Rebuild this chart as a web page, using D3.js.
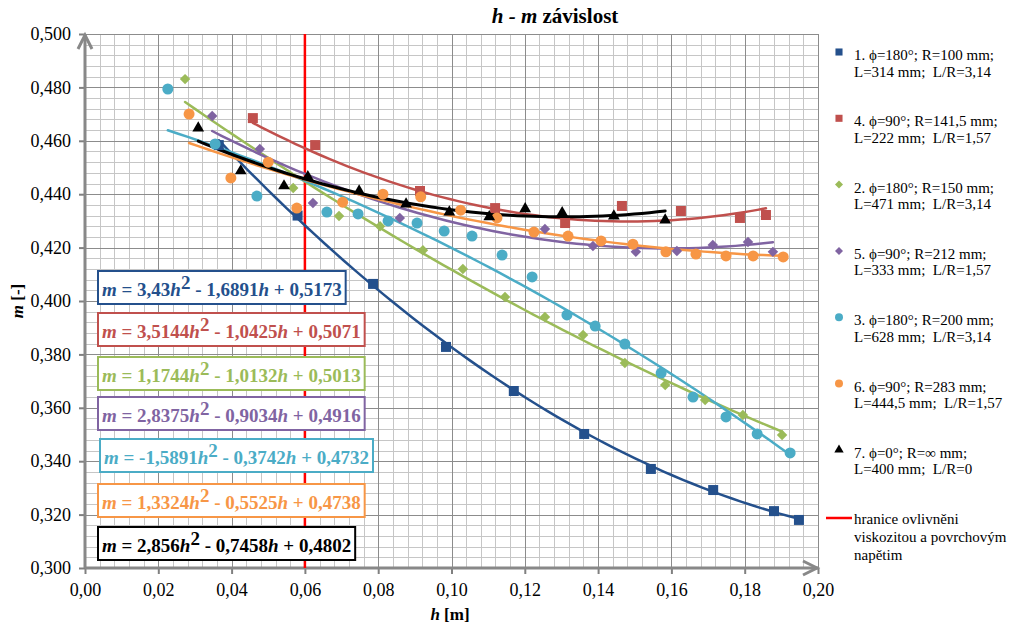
<!DOCTYPE html>
<html><head><meta charset="utf-8">
<script src="https://cdn.jsdelivr.net/npm/d3@7"></script>
<style>body{margin:0;background:#fff}svg{display:block}</style>
</head><body><svg id="c" width="1023" height="627" font-family="'Times New Roman', 'Liberation Serif', 'DejaVu Serif', serif"></svg>
<script>
// ---------- data ----------
const seriesIds = ["1","4","2","5","3","6","7"];
const legendLine1 = ["1. ϕ=180°; R=100 mm;","4. ϕ=90°; R=141,5 mm;","2. ϕ=180°; R=150 mm;","5. ϕ=90°; R=212 mm;","3. ϕ=180°; R=200 mm;","6. ϕ=90°; R=283 mm;","7. ϕ=0°; R=∞ mm;"];
const legendLine2 = ["L=314 mm;  L/R=3,14","L=222 mm;  L/R=1,57","L=471 mm;  L/R=3,14","L=333 mm;  L/R=1,57","L=628 mm;  L/R=3,14","L=444,5 mm;  L/R=1,57","L=400 mm;  L/R=0"];
const boundaryLabel = ["hranice ovlivněni","viskozitou a povrchovým","napětim"];
const boundaryH = 0.06;

const h1 = [0.0365,0.058,0.0786,0.0985,0.117,0.1362,0.1544,0.1714,0.188,0.1948];
const m1 = [0.4584,0.432,0.4064,0.3828,0.3663,0.3502,0.3371,0.3292,0.3213,0.318];
const h4 = [0.0458,0.0628,0.0914,0.1119,0.131,0.1465,0.1626,0.1787,0.1858];
const m4 = [0.4685,0.4584,0.4412,0.4348,0.4292,0.4356,0.4337,0.4311,0.4322];
const h2 = [0.0273,0.0568,0.0693,0.0805,0.0922,0.1031,0.1146,0.1255,0.1359,0.1473,0.1583,0.1692,0.1795,0.1902];
const m2 = [0.4831,0.4423,0.4318,0.428,0.419,0.412,0.4015,0.394,0.3873,0.3768,0.3685,0.3629,0.3573,0.3498];
const h5 = [0.0347,0.0477,0.0622,0.0859,0.1255,0.1386,0.1503,0.1615,0.1713,0.1809,0.1877];
const m5 = [0.4693,0.4569,0.4367,0.4311,0.427,0.4206,0.4184,0.4187,0.421,0.4221,0.4184];
const h3 = [0.0226,0.0355,0.0469,0.066,0.0745,0.0827,0.0906,0.098,0.1056,0.1138,0.122,0.1315,0.1392,0.1473,0.1572,0.1659,0.1749,0.1834,0.1924];
const m3 = [0.4794,0.4588,0.4393,0.4333,0.4326,0.43,0.4292,0.4262,0.4243,0.4172,0.409,0.3948,0.3906,0.3839,0.373,0.364,0.3566,0.3502,0.3431];
const h6 = [0.0284,0.0398,0.05,0.0578,0.0703,0.0813,0.0916,0.1025,0.1124,0.1225,0.1318,0.1408,0.1495,0.1585,0.1667,0.1749,0.1823,0.1905];
const m6 = [0.47,0.4461,0.452,0.4348,0.437,0.44,0.439,0.434,0.4311,0.4258,0.4243,0.4225,0.4213,0.4184,0.4176,0.4169,0.4169,0.4165];
const h7 = [0.0309,0.0425,0.0543,0.0608,0.0748,0.0876,0.0994,0.1103,0.1201,0.1302,0.1443,0.1583];
const m7 = [0.4648,0.4487,0.4431,0.4465,0.4412,0.4363,0.4333,0.4315,0.4345,0.433,0.4318,0.4303];

// trendline coefficients m = a h^2 + b h + c
const coefA = [3.43,3.5144,1.1744,2.8375,-1.5891,1.3324,2.856];
const coefB = [-1.6891,-1.0425,-1.0132,-0.9034,-0.3742,-0.5525,-0.7458];
const coefC = [0.5173,0.5071,0.5013,0.4916,0.4732,0.4738,0.4802];

const xTicks = [0,0.02,0.04,0.06,0.08,0.10,0.12,0.14,0.16,0.18,0.20];
const yTicks = [0.30,0.32,0.34,0.36,0.38,0.40,0.42,0.44,0.46,0.48,0.50];

// ---------- styles ----------
const FONT = "'Times New Roman', 'Liberation Serif', 'DejaVu Serif', serif";
const hData = [h1,h4,h2,h5,h3,h6,h7];
const mData = [m1,m4,m2,m5,m3,m6,m7];
const colors = ["#24508c","#c0504d","#9bbb59","#8064a2","#4bacc6","#f79646","#000000"];
const shapes = ["square","square","diamond","diamond","circle","circle","triangle"];

const svg = d3.select("#c");
const x = d3.scaleLinear().domain([0,0.2]).range([85,818]);
const y = d3.scaleLinear().domain([0.3,0.5]).range([568,34]);
const comma = v => v.replace(".",",");

// grid
const minorX = d3.range(0,0.2001,0.004), minorY = d3.range(0.3,0.5001,0.004);
const grid = svg.append("g");
grid.selectAll(".vx").data(minorX).join("line")
  .attr("x1",d=>Math.round(x(d))+0.5).attr("x2",d=>Math.round(x(d))+0.5).attr("y1",y(0.5)).attr("y2",y(0.3))
  .attr("stroke","#c6c6c6").attr("stroke-width",1);
grid.selectAll(".hy").data(minorY).join("line")
  .attr("y1",d=>Math.round(y(d))+0.5).attr("y2",d=>Math.round(y(d))+0.5).attr("x1",x(0)).attr("x2",x(0.2))
  .attr("stroke","#c6c6c6").attr("stroke-width",1);
grid.selectAll(".mx").data(xTicks).join("line")
  .attr("x1",d=>Math.round(x(d))+0.5).attr("x2",d=>Math.round(x(d))+0.5).attr("y1",y(0.5)).attr("y2",y(0.3))
  .attr("stroke","#8c8c8c").attr("stroke-width",1);
grid.selectAll(".my").data(yTicks).join("line")
  .attr("y1",d=>Math.round(y(d))+0.5).attr("y2",d=>Math.round(y(d))+0.5).attr("x1",x(0)).attr("x2",x(0.2))
  .attr("stroke","#8c8c8c").attr("stroke-width",1);

// axes
const xAxis = d3.axisBottom(x).tickValues(xTicks).tickFormat(d=>comma(d3.format(".2f")(d))).tickSize(6).tickPadding(6);
const yAxis = d3.axisLeft(y).tickValues(yTicks).tickFormat(d=>comma(d3.format(".3f")(d))).tickSize(6).tickPadding(8);
const gx = svg.append("g").attr("transform",`translate(0,${y(0.3)})`).call(xAxis);
const gy = svg.append("g").attr("transform",`translate(${x(0)},0)`).call(yAxis);
[gx,gy].forEach(g=>{
  g.attr("font-family",FONT).attr("font-size",18);
  g.select(".domain").remove();
  g.selectAll(".tick line").attr("stroke","#808080").attr("stroke-width",2);
  g.selectAll(".tick text").attr("fill","#000");
});
gx.selectAll(".tick text").attr("dy","0.9em");
const axisG = svg.append("g").attr("stroke","#888").attr("fill","none").attr("stroke-width",3);
axisG.append("line").attr("x1",x(0)).attr("x2",x(0.2)).attr("y1",y(0.3)).attr("y2",y(0.3));
axisG.append("line").attr("x1",x(0)).attr("x2",x(0)).attr("y1",y(0.3)).attr("y2",y(0.5));
axisG.append("path").attr("d",`M${x(0)-7},${y(0.5)+15}L${x(0)},${y(0.5)+1}L${x(0)+7},${y(0.5)+15}`);
axisG.append("path").attr("d",`M${x(0.2)-15},${y(0.3)-7}L${x(0.2)-1},${y(0.3)}L${x(0.2)-15},${y(0.3)+7}`);

// boundary line
svg.append("line").attr("x1",x(boundaryH)).attr("x2",x(boundaryH)).attr("y1",y(0.5)).attr("y2",y(0.3))
  .attr("stroke","#ff0000").attr("stroke-width",2.5);

// trendlines
const lineGen = d3.line().x(d=>x(d[0])).y(d=>y(d[1])).curve(d3.curveLinear);
hData.forEach((hs,i)=>{
  const [h0,h1e] = d3.extent(hs);
  const pts = d3.range(0,61).map(k=>{const h=h0+(h1e-h0)*k/60; return [h, coefA[i]*h*h+coefB[i]*h+coefC[i]];});
  svg.append("path").attr("d",lineGen(pts)).attr("fill","none").attr("stroke",colors[i])
    .attr("stroke-width", i===6?3:2.5).attr("stroke-linecap","round");
});

// markers
function sym(shape, big){
  if(shape==="square") return d3.symbol(d3.symbolSquare, big?100:50)();
  if(shape==="diamond") return d3.symbol(d3.symbolSquare, big?55:32)();
  if(shape==="circle") return d3.symbol(d3.symbolCircle, big?95:50)();
  return d3.symbol(d3.symbolTriangle, big?60:38)();
}
hData.forEach((hs,i)=>{
  svg.append("g").selectAll("path").data(hs.map((h,k)=>[h,mData[i][k]])).join("path")
    .attr("d",sym(shapes[i],true))
    .attr("transform",d=>`translate(${x(d[0])},${y(d[1])})${shapes[i]==="diamond"?" rotate(45)":""}`)
    .attr("fill",colors[i]);
});

// equation boxes
const boxTops = [271,313,357,397,439,484,527];
const boxLefts = [98,98,98,98,100,98,98];
boxTops.forEach((t,i)=>{
  const g = svg.append("g");
  const rect = g.append("rect").attr("fill","#fff").attr("stroke",colors[i]).attr("stroke-width",2);
  const tx = g.append("text").attr("x",boxLefts[i]+4).attr("y",t+25).attr("fill",colors[i])
     .attr("font-size",19).attr("font-weight","bold");
  const a = comma(String(coefA[i])), b = comma(String(Math.abs(coefB[i]))), c = comma(String(coefC[i]));
  tx.append("tspan").attr("font-style","italic").text("m");
  tx.append("tspan").text(" = " + a);
  tx.append("tspan").attr("font-style","italic").text("h");
  tx.append("tspan").attr("dy",-7).text("2");
  tx.append("tspan").attr("dy",7).text(" - " + b);
  tx.append("tspan").attr("font-style","italic").text("h");
  tx.append("tspan").text(" + " + c);
  const bb = tx.node().getBBox();
  rect.attr("x",boxLefts[i]).attr("y",t).attr("width",bb.width+8).attr("height",33);
});

// title & axis labels
const title = svg.append("text").attr("x",555).attr("y",23).attr("text-anchor","middle")
  .attr("font-size",21).attr("font-weight","bold");
title.append("tspan").attr("font-style","italic").text("h - m");
title.append("tspan").text(" závislost");
const yl = svg.append("text").attr("transform","translate(23,301) rotate(-90)").attr("text-anchor","middle")
  .attr("font-size",17).attr("font-weight","bold");
yl.append("tspan").attr("font-style","italic").text("m");
yl.append("tspan").text(" [-]");
const xl = svg.append("text").attr("x",450).attr("y",620).attr("text-anchor","middle")
  .attr("font-size",17).attr("font-weight","bold");
xl.append("tspan").attr("font-style","italic").text("h");
xl.append("tspan").text(" [m]");

// legend
const leg = svg.append("g");
seriesIds.forEach((id,i)=>{
  const base = 60 + 66.3*i;
  leg.append("path").attr("d",sym(shapes[i],false))
    .attr("transform",`translate(839,${base-8})${shapes[i]==="diamond"?" rotate(45)":""}`).attr("fill",colors[i]);
  leg.append("text").attr("x",854).attr("y",base).attr("font-size",15).attr("xml:space","preserve").style("white-space","pre").text(legendLine1[i]);
  leg.append("text").attr("x",854).attr("y",base+16.5).attr("font-size",15).style("white-space","pre").text(legendLine2[i]);
});
leg.append("line").attr("x1",826).attr("x2",852).attr("y1",518).attr("y2",518).attr("stroke","#ff0000").attr("stroke-width",2.5);
boundaryLabel.forEach((s,k)=>{
  leg.append("text").attr("x",854).attr("y",524+18*k).attr("font-size",15).text(s);
});
</script></body></html>
